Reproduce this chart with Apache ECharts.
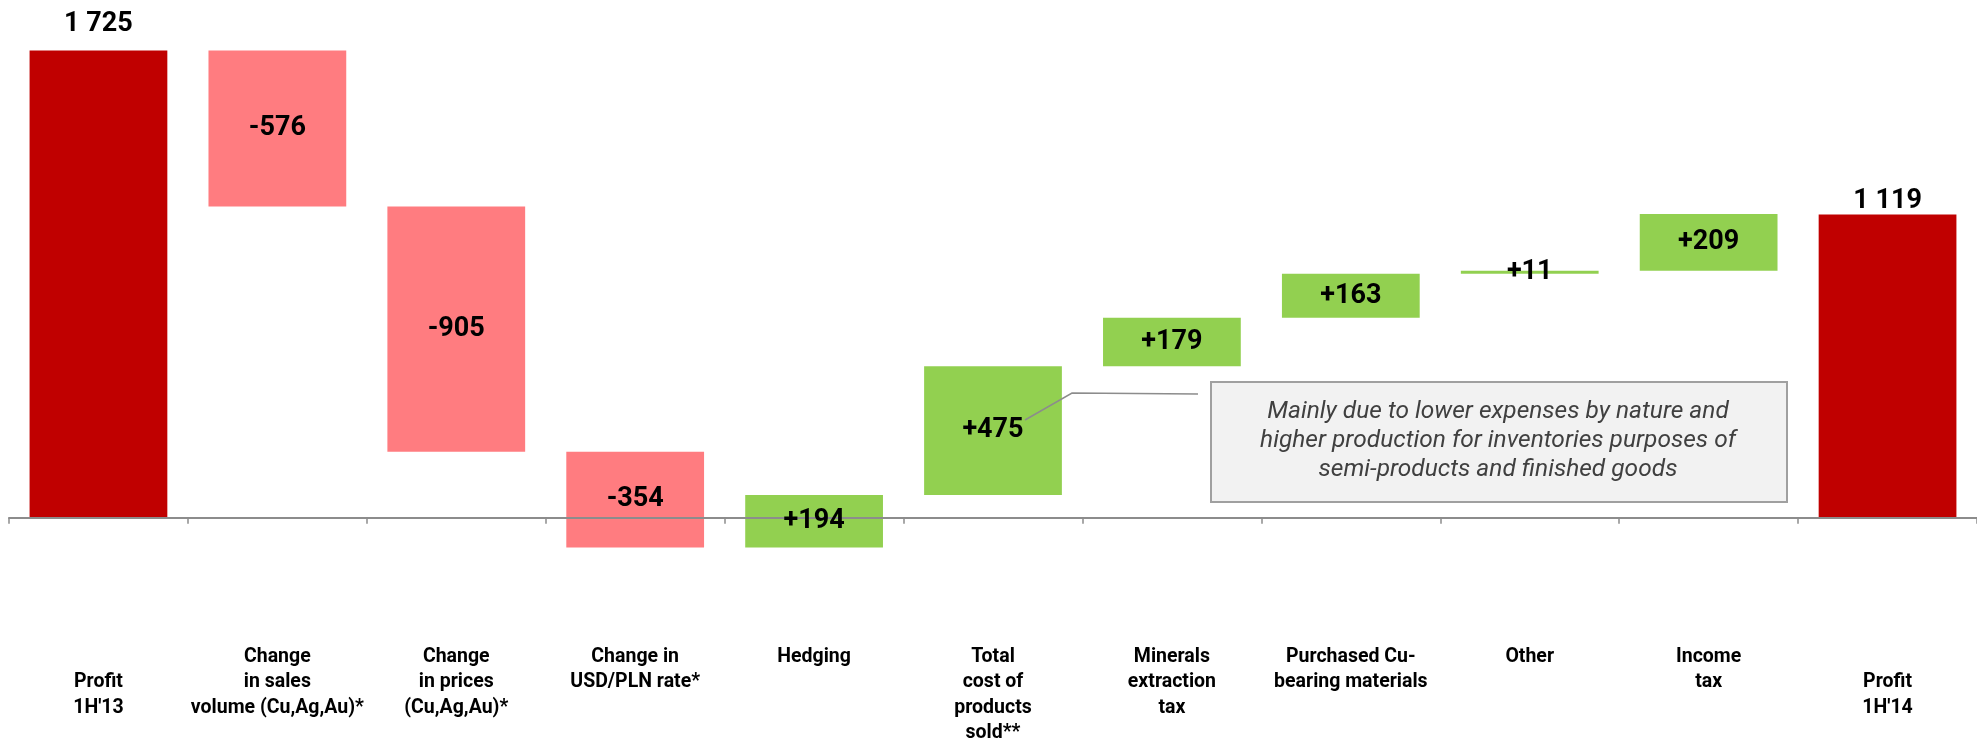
<!DOCTYPE html>
<html>
<head>
<meta charset="utf-8">
<script src="https://cdn.jsdelivr.net/npm/echarts@6/dist/echarts.min.js"></script>
<style>
html,body{margin:0;padding:0;background:#fff;}
#chart{width:1977px;height:742px;}
</style>
</head>
<body>
<div id="chart"></div>
<script>
// ---- data ----
const categories = [
  "\nProfit\n1H'13",
  "Change\nin sales\nvolume (Cu,Ag,Au)*",
  "Change\nin prices\n(Cu,Ag,Au)*",
  "Change in\nUSD/PLN rate*",
  "Hedging",
  "Total\ncost of\nproducts\nsold**",
  "Minerals\nextraction\ntax",
  "Purchased Cu-\nbearing materials",
  "Other",
  "Income\ntax",
  "\nProfit\n1H'14"
];
const startTotal = 1725;
const deltas = [-576, -905, -354, 194, 475, 179, 163, 11, 209];
const endTotal = 1119;
const noteLines = [
  "Mainly due to lower expenses by nature and",
  "higher production for inventories purposes of",
  "semi-products and finished goods"
];

const FONT = "Roboto,'Liberation Sans',sans-serif";
const COLORS = { total: '#C00000', neg: '#FF7C80', pos: '#92D050' };

function fmtTotal(v) {
  return String(v).replace(/\B(?=(\d{3})+(?!\d))/g, ' ');
}

// build floating bars: [index, low, high, label, kind]
const items = [];
items.push([0, 0, startTotal, fmtTotal(startTotal), 'total']);
let run = startTotal;
deltas.forEach((d, i) => {
  const a = run, b = run + d;
  items.push([i + 1, Math.min(a, b), Math.max(a, b), (d > 0 ? '+' : '') + d, d < 0 ? 'neg' : 'pos']);
  run = b;
});
items.push([categories.length - 1, 0, endTotal, fmtTotal(endTotal), 'total']);
const topLabelGap = { 0: 13, 10: 0 };

const chart = echarts.init(document.getElementById('chart'), null, { renderer: 'canvas' });

function barRenderer(params, api) {
  const idx = api.value(0);
  const lo = api.coord([idx, api.value(1)]);
  const hi = api.coord([idx, api.value(2)]);
  const w = api.size([1, 0])[0] * 0.77;
  const kind = items[params.dataIndex][4];
  const h = Math.max(lo[1] - hi[1], 2);
  return {
    type: 'rect',
    shape: { x: lo[0] - w / 2, y: hi[1], width: w, height: h },
    style: { fill: COLORS[kind] }
  };
}

function labelRenderer(params, api) {
  const idx = api.value(0);
  const lo = api.coord([idx, api.value(1)]);
  const hi = api.coord([idx, api.value(2)]);
  const kind = items[params.dataIndex][4];
  const label = items[params.dataIndex][3];
  const isTotal = kind === 'total';
  return {
    type: 'text',
    x: lo[0],
    y: isTotal ? hi[1] - (topLabelGap[idx] || 0) : (lo[1] + hi[1]) / 2,
    style: {
      text: label,
      fontFamily: FONT,
      fontWeight: 'bold',
      fontSize: 27,
      fill: '#000',
      align: 'center',
      verticalAlign: isTotal ? 'bottom' : 'middle'
    }
  };
}

const option = {
  animation: false,
  backgroundColor: '#ffffff',
  grid: { left: 9, right: 0, top: 3, bottom: 170, outerBoundsMode: 'none' },
  xAxis: {
    type: 'category',
    data: categories,
    z: 5,
    axisLine: { onZero: true, lineStyle: { color: '#8C8C8C', width: 2 } },
    axisTick: { show: true, length: 6, alignWithLabel: false, lineStyle: { color: '#8C8C8C', width: 1.5 } },
    axisLabel: {
      interval: 0,
      margin: 72,
      verticalAlign: 'top',
      lineHeight: 25.5,
      fontFamily: FONT,
      fontWeight: 'bold',
      fontSize: 19.5,
      color: '#000'
    },
    splitLine: { show: false }
  },
  yAxis: {
    type: 'value',
    min: -200,
    max: 1900,
    show: false,
    splitLine: { show: false }
  },
  series: [
    {
      type: 'custom',
      name: 'bars',
      z: 2,
      data: items,
      encode: { x: 0, y: [1, 2] },
      renderItem: barRenderer
    },
    {
      type: 'custom',
      name: 'labels',
      z: 8,
      data: items,
      encode: { x: 0, y: [1, 2] },
      renderItem: labelRenderer,
      silent: true
    }
  ],
  graphic: [
    {
      type: 'polyline',
      z: 10,
      shape: { points: [[1025, 420], [1072, 393], [1198, 394]] },
      style: { stroke: '#8C8C8C', lineWidth: 1.5, fill: null }
    },
    {
      type: 'rect',
      z: 10,
      shape: { x: 1211, y: 382, width: 576, height: 120 },
      style: { fill: '#F2F2F2', stroke: '#A0A0A0', lineWidth: 2 }
    },
    {
      type: 'text',
      z: 11,
      x: 1498,
      y: 441,
      style: {
        text: noteLines.join('\n'),
        fontFamily: FONT,
        fontStyle: 'italic',
        fontSize: 24.5,
        lineHeight: 29,
        fill: '#404040',
        align: 'center',
        verticalAlign: 'middle'
      }
    }
  ]
};
chart.setOption(option);
</script>
</body>
</html>
